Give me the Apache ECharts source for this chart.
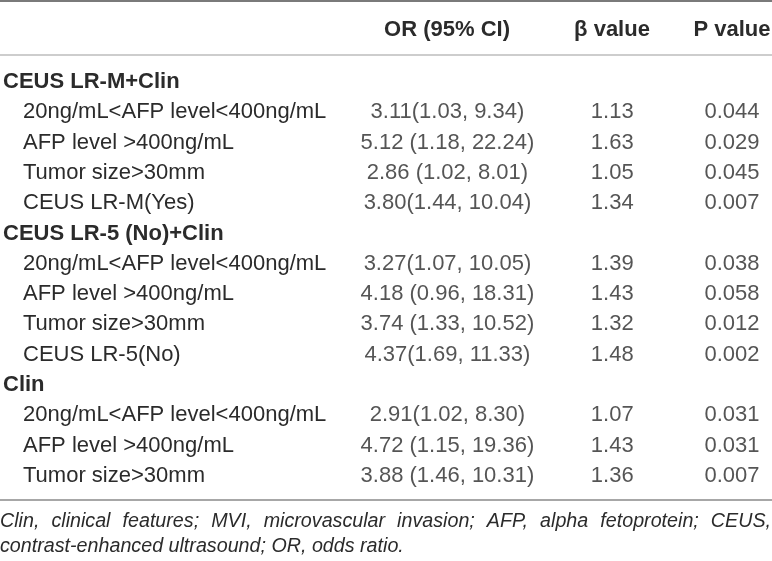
<!DOCTYPE html>
<html>
<head>
<meta charset="utf-8">
<script src="https://cdn.jsdelivr.net/npm/echarts@6/dist/echarts.min.js"></script>
<style>
  html, body { margin: 0; padding: 0; background: #fff; }
  #chart { width: 772px; height: 561px; }
</style>
</head>
<body>
<div id="chart"></div>
<script>
// table content, top to bottom
const rowLabels = [
  'CEUS LR-M+Clin',
  '20ng/mL<AFP level<400ng/mL',
  'AFP level >400ng/mL',
  'Tumor size>30mm',
  'CEUS LR-M(Yes)',
  'CEUS LR-5 (No)+Clin',
  '20ng/mL<AFP level<400ng/mL',
  'AFP level >400ng/mL',
  'Tumor size>30mm',
  'CEUS LR-5(No)',
  'Clin',
  '20ng/mL<AFP level<400ng/mL',
  'AFP level >400ng/mL',
  'Tumor size>30mm'
];
const groupRows = [0, 5, 10];
const orValues = [
  '', '3.11(1.03, 9.34)', '5.12 (1.18, 22.24)', '2.86 (1.02, 8.01)', '3.80(1.44, 10.04)',
  '', '3.27(1.07, 10.05)', '4.18 (0.96, 18.31)', '3.74 (1.33, 10.52)', '4.37(1.69, 11.33)',
  '', '2.91(1.02, 8.30)', '4.72 (1.15, 19.36)', '3.88 (1.46, 10.31)'
];
const betaValues = [
  '', '1.13', '1.63', '1.05', '1.34',
  '', '1.39', '1.43', '1.32', '1.48',
  '', '1.07', '1.43', '1.36'
];
const pValues = [
  '', '0.044', '0.029', '0.045', '0.007',
  '', '0.038', '0.058', '0.012', '0.002',
  '', '0.031', '0.031', '0.007'
];
const columnHeaders = ['OR (95% CI)', 'β value', 'P value'];
const footnoteLines = [
  'Clin, clinical features; MVI, microvascular invasion; AFP, alpha fetoprotein; CEUS,',
  'contrast-enhanced ultrasound; OR, odds ratio.'
];

// layout
const W = 772, H = 561;
const colX = [447, 612, 732];
const FONT = '"Liberation Sans", Arial, sans-serif';
const TEXT = '#2b2b2b';
const bodySize = 22;
const rowH = 30.3;
const gridTop = 82 - rowH / 2;
const gridBottom = H - (gridTop + rowH * rowLabels.length);
const headerY = 30, headerLineY = 55, bottomLineY = 500;
const footY = [522, 547];
const footSize = 19.7;

const chart = echarts.init(document.getElementById('chart'), null, { renderer: 'canvas' });

function columnSeries(values, c) {
  const data = [];
  values.forEach(function (v, i) {
    if (v !== '') data.push([colX[c], i, v]);
  });
  return {
    type: 'scatter',
    symbolSize: 0,
    silent: true,
    data: data,
    encode: { x: 0, y: 1 },
    label: {
      show: true,
      position: 'inside',
      formatter: function (p) { return p.value[2]; },
      fontFamily: FONT,
      fontSize: bodySize,
      color: TEXT
    }
  };
}

// justified footnote line built from words
const measure = document.createElement('canvas').getContext('2d');
measure.font = 'italic ' + footSize + 'px ' + FONT;
function footnoteGraphics() {
  const out = [];
  footnoteLines.forEach(function (line, li) {
    const words = line.split(' ');
    if (li === footnoteLines.length - 1) {
      out.push({ type: 'text', x: 0, y: footY[li], style: {
        text: line, font: 'italic ' + footSize + 'px ' + FONT, fill: TEXT, verticalAlign: 'middle'
      }});
      return;
    }
    const widths = words.map(function (w) { return measure.measureText(w).width; });
    const total = widths.reduce(function (a, b) { return a + b; }, 0);
    const gap = (W - 1 - total) / (words.length - 1);
    let x = 0;
    words.forEach(function (w, wi) {
      out.push({ type: 'text', x: x, y: footY[li], style: {
        text: w, font: 'italic ' + footSize + 'px ' + FONT, fill: TEXT, verticalAlign: 'middle'
      }});
      x += widths[wi] + gap;
    });
  });
  return out;
}

const headerGraphics = columnHeaders.map(function (h, c) {
  return { type: 'text', x: colX[c], y: headerY, style: {
    text: h, font: 'bold ' + bodySize + 'px ' + FONT, fill: TEXT, align: 'center', verticalAlign: 'middle'
  }};
});

function hLine(y, w, color) {
  return { type: 'line', shape: { x1: 0, y1: y, x2: W, y2: y }, style: { stroke: color, lineWidth: w } };
}

chart.setOption({
  animation: false,
  backgroundColor: '#fff',
  grid: { left: 0, right: 0, top: gridTop, bottom: gridBottom, containLabel: false },
  xAxis: { type: 'value', min: 0, max: W, show: false },
  yAxis: {
    type: 'category',
    inverse: true,
    data: rowLabels.map(function (_, i) { return String(i); }),
    axisLine: { show: false },
    axisTick: { show: false },
    splitLine: { show: false },
    axisLabel: {
      inside: true,
      margin: 2,
      formatter: function (v) {
        const i = Number(v);
        return groupRows.indexOf(i) >= 0 ? '{h|' + rowLabels[i] + '}' : '{i|' + rowLabels[i] + '}';
      },
      rich: {
        h: { fontFamily: FONT, fontWeight: 'bold', fontSize: bodySize, color: TEXT },
        i: { fontFamily: FONT, fontSize: bodySize, color: TEXT, padding: [0, 0, 0, 20] }
      }
    }
  },
  series: [
    columnSeries(orValues, 0),
    columnSeries(betaValues, 1),
    columnSeries(pValues, 2)
  ],
  graphic: [
    hLine(1, 2, '#7a7a7a'),
    hLine(headerLineY, 1.5, '#bdbdbd'),
    hLine(bottomLineY, 1.5, '#8a8a8a')
  ].concat(headerGraphics, footnoteGraphics())
});
</script>
</body>
</html>
